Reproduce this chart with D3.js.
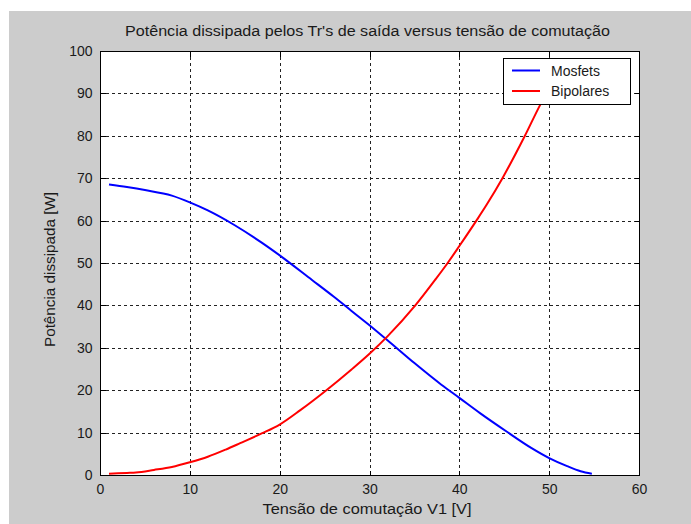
<!DOCTYPE html>
<html><head><meta charset="utf-8">
<script src="https://cdn.jsdelivr.net/npm/d3@7"></script>
<style>html,body{margin:0;padding:0;background:#fff;}svg{display:block;}</style>
</head><body>
<script>
const title = "Potência dissipada pelos Tr's de saída versus tensão de comutação";
const xLabel = "Tensão de comutação V1 [V]";
const yLabel = "Potência dissipada [W]";
const seriesNames = ["Mosfets", "Bipolares"];
const seriesColors = ["#0000ff", "#ff0000"];
const xTicks = [0, 10, 20, 30, 40, 50, 60];
const yTicks = [0, 10, 20, 30, 40, 50, 60, 70, 80, 90, 100];

const mosfetsX = [1, 3, 5, 8, 10, 12, 15, 18, 20, 23.6, 26, 28, 30, 32, 35, 38, 40, 42.3, 45.3, 48, 50, 52, 53.5, 54.75];
const mosfetsY = [68.5, 67.9, 67.2, 65.9, 64.3, 62.4, 58.9, 54.8, 51.8, 46, 42.1, 38.7, 35.3, 31.8, 26.4, 21.3, 18.2, 14.6, 10.2, 6.4, 4.0, 2.1, 0.9, 0.3];

const bipolaresX = [1, 3, 4, 6, 8, 10, 12, 14, 15.6, 18, 20, 22.3, 25.2, 28, 30, 32, 35.1, 37.3, 38.7, 40, 41.9, 43, 44.8, 47.3, 49, 50.5];
const bipolaresY = [0.3, 0.5, 0.6, 1.2, 1.9, 3.0, 4.3, 6.0, 7.5, 9.8, 11.9, 15.3, 20, 24.9, 28.6, 32.7, 40, 46, 50, 54, 60, 63.6, 70, 80, 87.3, 93];

const W = 691, H = 524;
const svg = d3.select("body").append("svg").attr("width", W).attr("height", H);
const font = "'Liberation Sans', Arial, sans-serif";
const txtCol = "#1a1a1a";

svg.append("rect").attr("x", 9).attr("y", 11).attr("width", W - 9).attr("height", H - 11).attr("fill", "#cccccc");

const L = 100, R = 639, T = 51, B = 475;
const x = d3.scaleLinear().domain([0, 60]).range([L, R]);
const y = d3.scaleLinear().domain([0, 100]).range([B, T]);

svg.append("rect").attr("x", L).attr("y", T).attr("width", R - L).attr("height", B - T).attr("fill", "#fff");

svg.append("clipPath").attr("id", "c").append("rect").attr("x", L).attr("y", T).attr("width", R - L).attr("height", B - T);

// grid
const grid = svg.append("g").attr("stroke", "#222").attr("stroke-width", 1).attr("stroke-dasharray", "3,3").attr("shape-rendering", "crispEdges");
xTicks.slice(1, -1).forEach(t => grid.append("line").attr("x1", Math.round(x(t)) + 0.5).attr("x2", Math.round(x(t)) + 0.5).attr("y1", T).attr("y2", B));
yTicks.slice(1, -1).forEach(t => grid.append("line").attr("y1", Math.round(y(t)) + 0.5).attr("y2", Math.round(y(t)) + 0.5).attr("x1", L).attr("x2", R));

// axes
const tl = 5;
const xAxisB = svg.append("g").attr("transform", `translate(0,${B + 0.5})`)
  .call(d3.axisBottom(x).tickValues(xTicks).tickSizeInner(-tl).tickSizeOuter(0).tickPadding(9));
const xAxisT = svg.append("g").attr("transform", `translate(0,${T + 0.5})`)
  .call(d3.axisTop(x).tickValues(xTicks).tickSizeInner(-tl).tickSizeOuter(0).tickFormat(""));
const yAxisL = svg.append("g").attr("transform", `translate(${L + 0.5},0)`)
  .call(d3.axisLeft(y).tickValues(yTicks).tickSizeInner(-tl).tickSizeOuter(0).tickPadding(8));
const yAxisR = svg.append("g").attr("transform", `translate(${R + 0.5},0)`)
  .call(d3.axisRight(y).tickValues(yTicks).tickSizeInner(-tl).tickSizeOuter(0).tickFormat(""));
[xAxisB, xAxisT, yAxisL, yAxisR].forEach(a => {
  a.select(".domain").remove();
  a.selectAll("line").attr("stroke", "#000").attr("shape-rendering", "crispEdges");
  a.selectAll("text").attr("font-family", font).attr("font-size", 14).attr("fill", txtCol);
});
svg.append("rect").attr("x", L + 0.5).attr("y", T + 0.5).attr("width", R - L).attr("height", B - T)
  .attr("fill", "none").attr("stroke", "#000").attr("shape-rendering", "crispEdges");

// lines
const series = [
  mosfetsX.map((v, i) => [v, mosfetsY[i]]),
  bipolaresX.map((v, i) => [v, bipolaresY[i]])
];
const line = d3.line().x(d => x(d[0])).y(d => y(d[1])).curve(d3.curveMonotoneX);
const lg = svg.append("g").attr("clip-path", "url(#c)");
series.forEach((s, i) => lg.append("path").attr("d", line(s)).attr("fill", "none")
  .attr("stroke", seriesColors[i]).attr("stroke-width", 2).attr("stroke-linejoin", "round"));

// legend
const lgx = 503, lgy = 58, lgw = 127, lgh = 46;
svg.append("rect").attr("x", lgx + 0.5).attr("y", lgy + 0.5).attr("width", lgw).attr("height", lgh)
  .attr("fill", "#fff").attr("stroke", "#000").attr("shape-rendering", "crispEdges");
const rowsY = [70.5, 91];
seriesNames.forEach((n, i) => {
  svg.append("line").attr("x1", 512).attr("x2", 540).attr("y1", rowsY[i]).attr("y2", rowsY[i])
    .attr("stroke", seriesColors[i]).attr("stroke-width", 2);
  svg.append("text").attr("x", 551).attr("y", rowsY[i] + 5).attr("font-family", font).attr("font-size", 14)
    .attr("fill", txtCol).text(n);
});

// titles
function fitText(sel, len) { sel.attr("textLength", len).attr("lengthAdjust", "spacingAndGlyphs"); }
const tt = svg.append("text").attr("x", 367.5).attr("y", 36).attr("text-anchor", "middle")
  .attr("font-family", font).attr("font-size", 14).attr("fill", txtCol).text(title);
fitText(tt, 485);
const xl = svg.append("text").attr("x", 367).attr("y", 514).attr("text-anchor", "middle")
  .attr("font-family", font).attr("font-size", 14).attr("fill", txtCol).text(xLabel);
fitText(xl, 209);
const yl = svg.append("text").attr("transform", "translate(55,269.5) rotate(-90)").attr("text-anchor", "middle")
  .attr("font-family", font).attr("font-size", 14).attr("fill", txtCol).text(yLabel);
fitText(yl, 155);
</script>
</body></html>
